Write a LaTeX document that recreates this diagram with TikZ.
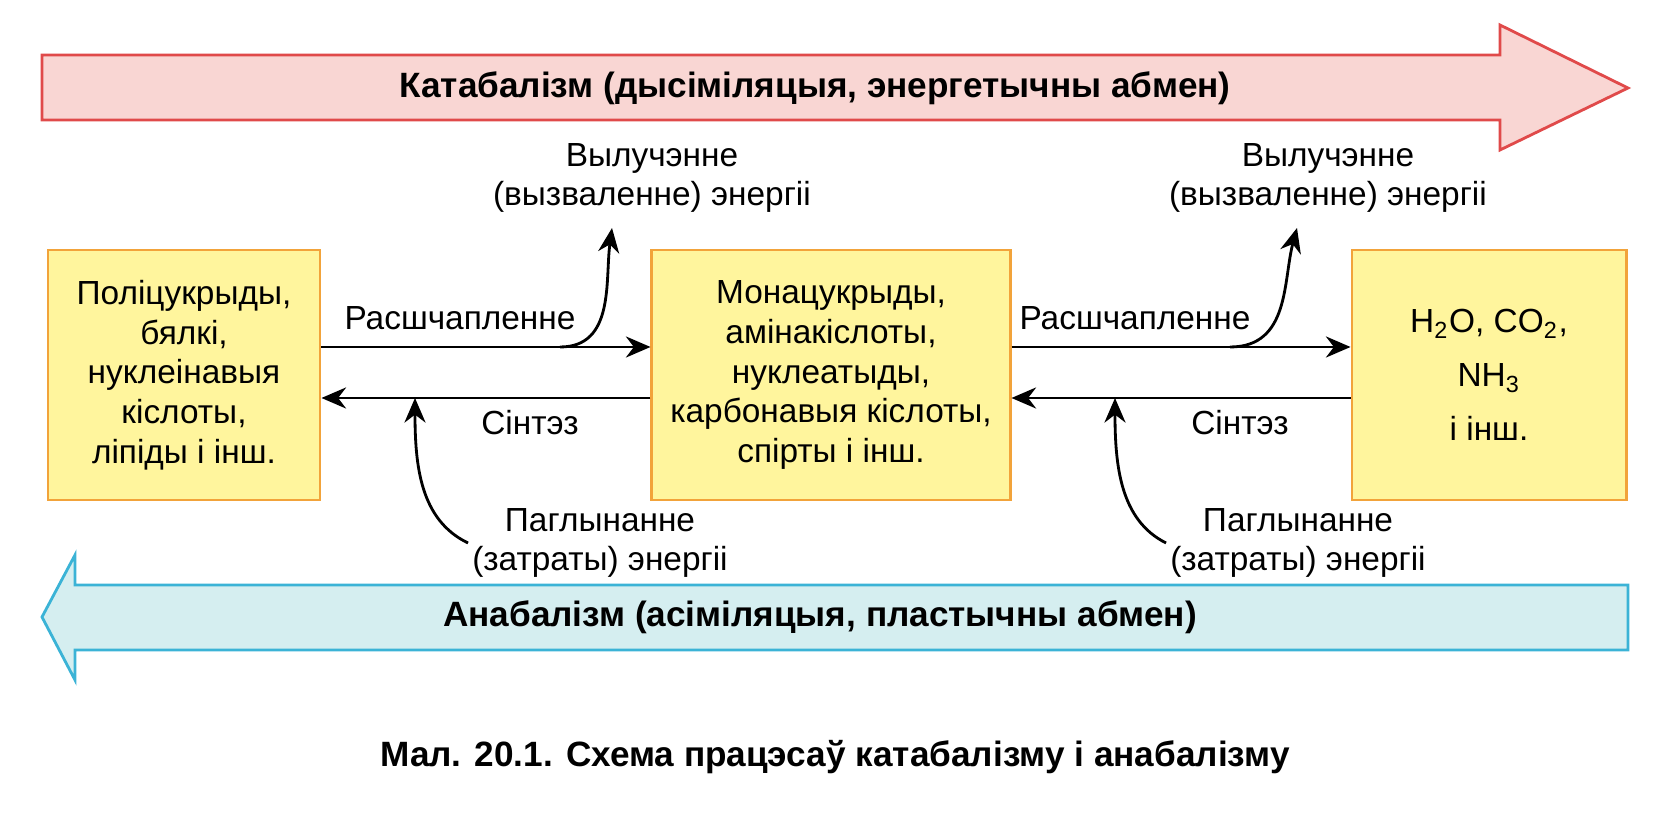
\documentclass[tikz,border=0pt]{standalone}
\usepackage{fontspec}
\setmainfont{Liberation Sans}
\usetikzlibrary{arrows.meta}
\definecolor{boxfill}{HTML}{FFF59D}
\definecolor{boxline}{HTML}{F2A33A}
\definecolor{katfill}{HTML}{F9D6D3}
\definecolor{katline}{HTML}{E04A4A}
\definecolor{anafill}{HTML}{D5EEF0}
\definecolor{analine}{HTML}{3BB3D6}
\tikzset{
  stage/.style={draw=boxline, fill=boxfill, line width=0.8pt, minimum height=2.5cm, align=center, inner sep=2pt},
  lbl/.style={align=center, inner sep=1pt},
  flow/.style={-{Stealth[length=7pt,width=6pt]}, line width=0.8pt},
}
\begin{document}
\begin{tikzpicture}[x=0.01cm, y=-0.01cm, font=\fontsize{9.5}{11.3}\selectfont]
    \useasboundingbox (0,0) rectangle (1669,816);
    % big process arrows
    \draw [katline, fill=katfill, line width=0.8pt] (42,55) -- (1500,55) -- (1500,25) -- (1628,88) -- (1500,150) -- (1500,120) -- (42,120) -- cycle;
    \node (kat) [font=\fontsize{10}{12}\selectfont\bfseries] at (815,88) {Катабалізм (дысіміляцыя, энергетычны абмен)};
    \draw [analine, fill=anafill, line width=0.8pt] (1628,585) -- (75,585) -- (75,555) -- (42,617) -- (75,680) -- (75,650) -- (1628,650) -- cycle;
    \node (ana) [font=\fontsize{10}{12}\selectfont\bfseries] at (820,617) {Анабалізм (асіміляцыя, пластычны абмен)};
    % stages
    \node (poly) [stage, minimum width=2.72cm] at (184,375) {Поліцукрыды,\\бялкі,\\нуклеінавыя\\кіслоты,\\ ліпіды і інш.};
    \node (mono) [stage, minimum width=3.58cm] at (831,375) {Монацукрыды,\\амінакіслоты,\\нуклеатыды,\\карбонавыя кіслоты,\\спірты і інш.};
    \node (fin) [stage, minimum width=2.74cm] at (1489,375) {H\textsubscript{2}O, CO\textsubscript{2},\\[4pt] NH\textsubscript{3}\\[4pt] і інш.};
    % links
    \draw [flow] (poly.east |- 0,347) -- (mono.west |- 0,347);
    \draw [flow] (mono.west |- 0,398) -- (poly.east |- 0,398);
    \draw [flow] (mono.east |- 0,347) -- (fin.west |- 0,347);
    \draw [flow] (fin.west |- 0,398) -- (mono.east |- 0,398);
    \node (split1) [lbl] at (460,318) {Расшчапленне};
    \node (synt1) [lbl] at (530,423) {Сінтэз};
    \node (split2) [lbl] at (1135,318) {Расшчапленне};
    \node (synt2) [lbl] at (1240,423) {Сінтэз};
    % energy
    \node (out1) [lbl] at (652,178) {Вылучэнне\\(вызваленне) энергіі};
    \node (out2) [lbl] at (1328,178) {Вылучэнне\\(вызваленне) энергіі};
    \node (in1) [lbl] at (600,543) {Паглынанне\\(затраты) энергіі};
    \node (in2) [lbl] at (1298,543) {Паглынанне\\(затраты) энергіі};
    \coordinate (o1) at (560,347);
    \coordinate (o2) at (1230,347);
    \coordinate (i1) at (415,398);
    \coordinate (i2) at (1115,398);
    \draw [flow] (o1) .. controls (615,347) and (605,280) .. (612,228);
    \draw [flow] (o2) .. controls (1290,347) and (1283,280) .. (1297,228);
    \draw [flow] (in1.west) .. controls (420,520) and (415,465) .. (i1);
    \draw [flow] (in2.west) .. controls (1120,520) and (1115,465) .. (i2);
    % caption
    \node (cap) [font=\fontsize{10}{12}\selectfont\bfseries] at (835,757) {Мал. 20.1. Схема працэсаў катабалізму і анабалізму};
\end{tikzpicture}
\end{document}
